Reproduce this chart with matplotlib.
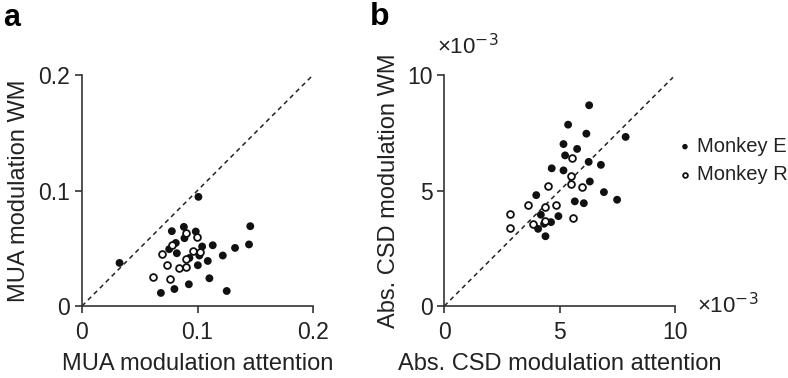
import matplotlib
matplotlib.use('Agg')
import matplotlib.pyplot as plt

plt.rcParams['font.family'] = ['Liberation Sans', 'DejaVu Sans']

# panel a: MUA modulation, monkey E (filled) and monkey R (open)
mua_att_E = [0.0325, 0.1008, 0.0778, 0.0882, 0.0985, 0.0887, 0.0812, 0.0755,
             0.0821, 0.1040, 0.1132, 0.1016, 0.0930, 0.1089, 0.1219, 0.1325,
             0.1446, 0.1457, 0.1003, 0.1103, 0.0925, 0.0800, 0.0683, 0.1253]
mua_wm_E = [0.0373, 0.0945, 0.0648, 0.0685, 0.0645, 0.0587, 0.0546, 0.0492,
            0.0457, 0.0515, 0.0526, 0.0437, 0.0416, 0.0390, 0.0437, 0.0503,
            0.0533, 0.0691, 0.0353, 0.0240, 0.0188, 0.0147, 0.0113, 0.0130]
mua_att_R = [0.0899, 0.0999, 0.0783, 0.0694, 0.0959, 0.1025, 0.0904, 0.0740,
             0.0838, 0.0901, 0.0619, 0.0761]
mua_wm_R = [0.0628, 0.0598, 0.0526, 0.0454, 0.0472, 0.0468, 0.0411, 0.0359,
            0.0330, 0.0336, 0.0255, 0.0234]

# panel b: abs. CSD modulation (x1e-3)
csd_att_E = [6.27, 5.36, 6.15, 7.85, 5.16, 5.75, 5.23, 6.25, 6.78, 4.65, 5.16,
             6.30, 6.91, 7.48, 3.98, 5.65, 6.04, 4.18, 4.94, 4.62, 4.32, 4.06, 4.38]
csd_wm_E = [8.69, 7.85, 7.46, 7.32, 7.01, 6.80, 6.52, 6.24, 6.11, 5.96, 5.87,
            5.39, 4.93, 4.60, 4.80, 4.53, 4.45, 3.95, 3.89, 3.63, 3.56, 3.34, 3.02]
csd_att_R = [5.53, 5.48, 5.48, 5.98, 4.51, 3.62, 4.38, 4.83, 2.85, 2.85, 3.86,
             4.36, 5.59]
csd_wm_R = [6.41, 5.61, 5.29, 5.15, 5.19, 4.37, 4.29, 4.37, 3.99, 3.38, 3.57,
            3.69, 3.82]

scale = 1e-3
axcol = '#333333'
txtcol = '#222222'

fig = plt.figure(figsize=(7.88, 3.78), dpi=100)
ax1 = fig.add_axes([82/788, 72/378, 231/788, 231/378])
ax2 = fig.add_axes([444.3/788, 72/378, 231/788, 231/378])


def style(ax):
    for s in ['top', 'right']:
        ax.spines[s].set_visible(False)
    for s in ['left', 'bottom']:
        ax.spines[s].set_color(axcol)
        ax.spines[s].set_linewidth(1.2)
    ax.tick_params(colors=axcol, labelcolor=txtcol, length=5, width=1.2,
                   labelsize=16.5)
    ax.tick_params(axis='x', pad=6)
    ax.tick_params(axis='y', pad=3.5)


# a
ax1.plot([0, 0.2], [0, 0.2], ls=(0, (3, 2.5)), color=txtcol, lw=1.1, zorder=1)
ax1.scatter(mua_att_E, mua_wm_E, s=32, c='#111111', edgecolors='none', zorder=3)
ax1.scatter(mua_att_R, mua_wm_R, s=24, facecolors='white', edgecolors='#111111',
            linewidths=1.3, zorder=3)
ax1.set_xlim(0, 0.2)
ax1.set_ylim(0, 0.2)
ax1.set_xticks([0, 0.1, 0.2])
ax1.set_yticks([0, 0.1, 0.2])
ax1.set_xticklabels(['0', '0.1', '0.2'])
ax1.set_yticklabels(['0', '0.1', '0.2'])
style(ax1)
ax1.set_xlabel('MUA modulation attention', fontsize=17, color=txtcol, labelpad=6)
ax1.set_ylabel('MUA modulation WM', fontsize=17, color=txtcol, labelpad=6)

# b
ax2.plot([0, 9.9 * scale], [0, 9.9 * scale], ls=(0, (3, 2.5)), color=txtcol,
         lw=1.1, zorder=1)
ax2.scatter([v * scale for v in csd_att_E], [v * scale for v in csd_wm_E], s=32,
            c='#111111', edgecolors='none', zorder=3, label='Monkey E')
ax2.scatter([v * scale for v in csd_att_R], [v * scale for v in csd_wm_R], s=24,
            facecolors='white', edgecolors='#111111', linewidths=1.3, zorder=3,
            label='Monkey R')
ax2.set_xlim(0, 10 * scale)
ax2.set_ylim(0, 10 * scale)
ax2.set_xticks([0, 5 * scale, 10 * scale])
ax2.set_yticks([0, 5 * scale, 10 * scale])
ax2.set_xticklabels(['0', '5', '10'])
ax2.set_yticklabels(['0', '5', '10'])
style(ax2)
ax2.set_xlabel('Abs. CSD modulation attention', fontsize=17, color=txtcol,
               labelpad=6)
ax2.set_ylabel('Abs. CSD modulation WM', fontsize=17, color=txtcol, labelpad=5)
ax2.text(-0.03, 1.09, '×10$^{-3}$', transform=ax2.transAxes, fontsize=16,
         color=txtcol, ha='left', va='baseline')
ax2.text(1.095, -0.03, '×10$^{-3}$', transform=ax2.transAxes, fontsize=16,
         color=txtcol, ha='left', va='baseline')
leg = ax2.legend(loc='center left', bbox_to_anchor=(1.02, 0.63), frameon=False,
                 fontsize=14.5, handlelength=0.5, handletextpad=0.35,
                 labelspacing=0.45, markerscale=0.7, borderaxespad=0,
                 borderpad=0)
for t in leg.get_texts():
    t.set_color(txtcol)

fig.text(3/788, 1 - 26/378, 'a', fontsize=22, fontweight='bold', ha='left',
         va='baseline')
fig.text(370/788, 1 - 25/378, 'b', fontsize=23, fontweight='bold', ha='left',
         va='baseline')

fig.savefig('out.png', dpi=100)
